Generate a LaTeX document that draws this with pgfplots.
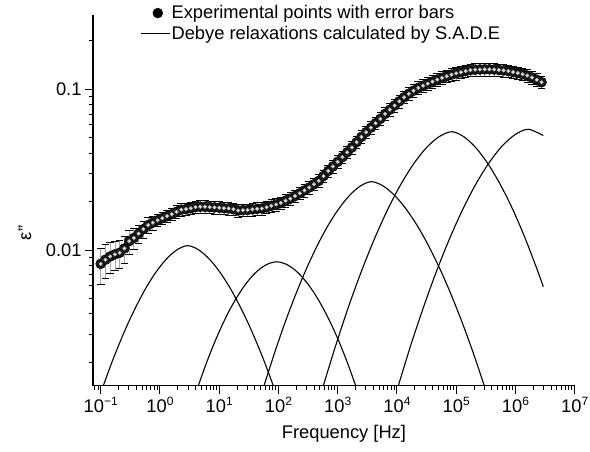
\documentclass[border=0pt]{standalone}
\usepackage{fontspec}
\setmainfont{Liberation Sans}
\usepackage{pgfplots}
\usepackage{pgfplotstable}
\pgfplotsset{compat=1.18}
\newcommand{\sx}[1]{10\raisebox{7bp}{\fontsize{12bp}{12bp}\selectfont #1}}

% experimental points: log10(f), log10(eps''), relative error
\pgfplotstableread{
u v e
-1.00 -2.086 0.25
-0.92 -2.060 0.24
-0.84 -2.040 0.22
-0.76 -2.027 0.21
-0.68 -2.017 0.20
-0.60 -1.990 0.19
-0.52 -1.945 0.17
-0.44 -1.925 0.15
-0.36 -1.898 0.13
-0.28 -1.870 0.12
-0.20 -1.845 0.11
-0.12 -1.830 0.10
-0.04 -1.815 0.09
0.04 -1.802 0.09
0.12 -1.789 0.09
0.20 -1.777 0.09
0.28 -1.762 0.09
0.36 -1.749 0.09
0.44 -1.745 0.09
0.52 -1.740 0.09
0.60 -1.733 0.09
0.68 -1.731 0.09
0.76 -1.731 0.09
0.84 -1.733 0.09
0.92 -1.735 0.09
1.00 -1.737 0.09
1.08 -1.740 0.09
1.16 -1.741 0.09
1.24 -1.746 0.09
1.32 -1.754 0.09
1.40 -1.752 0.09
1.48 -1.751 0.09
1.56 -1.747 0.09
1.64 -1.744 0.09
1.72 -1.742 0.09
1.80 -1.734 0.09
1.88 -1.725 0.09
1.96 -1.717 0.09
2.04 -1.707 0.09
2.12 -1.693 0.09
2.20 -1.681 0.09
2.28 -1.664 0.09
2.36 -1.647 0.09
2.44 -1.629 0.09
2.52 -1.611 0.09
2.60 -1.591 0.09
2.68 -1.570 0.09
2.76 -1.540 0.09
2.84 -1.508 0.09
2.92 -1.480 0.09
3.00 -1.451 0.09
3.08 -1.422 0.09
3.16 -1.392 0.09
3.24 -1.362 0.09
3.32 -1.329 0.09
3.40 -1.296 0.09
3.48 -1.267 0.09
3.56 -1.239 0.09
3.64 -1.211 0.09
3.72 -1.184 0.09
3.80 -1.153 0.09
3.88 -1.127 0.09
3.96 -1.101 0.09
4.04 -1.075 0.09
4.12 -1.050 0.09
4.20 -1.028 0.09
4.28 -1.009 0.09
4.36 -0.991 0.09
4.44 -0.978 0.09
4.52 -0.965 0.09
4.60 -0.952 0.09
4.68 -0.940 0.09
4.76 -0.929 0.09
4.84 -0.919 0.09
4.92 -0.909 0.09
5.00 -0.901 0.09
5.08 -0.894 0.09
5.16 -0.887 0.09
5.24 -0.881 0.09
5.32 -0.878 0.09
5.40 -0.877 0.09
5.48 -0.876 0.09
5.56 -0.876 0.09
5.64 -0.877 0.09
5.72 -0.880 0.09
5.80 -0.883 0.09
5.88 -0.887 0.09
5.96 -0.893 0.09
6.04 -0.899 0.09
6.12 -0.906 0.09
6.20 -0.915 0.09
6.28 -0.927 0.09
6.36 -0.941 0.09
6.44 -0.956 0.09
}\expdata

% Debye relaxations (log10 f, log10 eps'')
\pgfplotstableread{
u v
-0.956 -2.844
-0.814 -2.701
-0.671 -2.569
-0.529 -2.448
-0.386 -2.339
-0.244 -2.241
-0.102 -2.156
0.041 -2.085
0.183 -2.029
0.326 -1.990
0.468 -1.973
0.613 -1.990
0.757 -2.029
0.902 -2.085
1.046 -2.156
1.191 -2.241
1.335 -2.339
1.480 -2.448
1.624 -2.569
1.769 -2.701
1.913 -2.844
}\debA

\pgfplotstableread{
u v
0.647 -2.844
0.779 -2.708
0.912 -2.583
1.044 -2.472
1.176 -2.373
1.309 -2.287
1.441 -2.215
1.573 -2.156
1.705 -2.112
1.838 -2.084
1.970 -2.073
2.103 -2.084
2.237 -2.112
2.370 -2.156
2.504 -2.215
2.637 -2.287
2.770 -2.373
2.904 -2.472
3.037 -2.583
3.171 -2.708
3.304 -2.844
}\debB

\pgfplotstableread{
u v
1.756 -2.844
1.938 -2.636
2.119 -2.443
2.301 -2.267
2.482 -2.108
2.664 -1.966
2.845 -1.842
3.027 -1.739
3.208 -1.657
3.390 -1.600
3.571 -1.575
3.761 -1.600
3.952 -1.657
4.142 -1.739
4.332 -1.842
4.523 -1.966
4.713 -2.108
4.903 -2.267
5.093 -2.443
5.284 -2.636
5.474 -2.844
}\debC

\pgfplotstableread{
u v
2.757 -2.844
2.974 -2.585
3.190 -2.345
3.407 -2.126
3.624 -1.927
3.841 -1.750
4.057 -1.597
4.274 -1.468
4.491 -1.366
4.707 -1.296
4.924 -1.264
5.131 -1.296
5.337 -1.366
5.544 -1.468
5.751 -1.597
5.958 -1.750
6.164 -1.927
6.371 -2.126
6.470 -2.228
}\debD

\pgfplotstableread{
u v
4.023 -2.844
4.242 -2.582
4.462 -2.341
4.681 -2.119
4.901 -1.918
5.120 -1.740
5.339 -1.585
5.559 -1.455
5.778 -1.352
5.998 -1.281
6.217 -1.249
6.470 -1.288
}\debE

\begin{document}
\begin{tikzpicture}[font=\fontsize{18.3bp}{22bp}\selectfont]
\begin{axis}[
    scale only axis, width=481.7bp, height=370.7bp,
    xmode=log, ymode=log,
    xmin=0.0741, xmax=1e7, ymin=0.001432, ymax=0.2897,
    axis x line*=bottom, axis y line*=left,
    axis line style={line width=1.3bp},
    tick align=outside, major tick length=8bp, minor tick length=4.5bp,
    every tick/.style={black, line width=1bp},
    xtick={1e-1,1,1e1,1e2,1e3,1e4,1e5,1e6,1e7},
    xticklabels={\sx{−1},\sx{0},\sx{1},\sx{2},\sx{3},\sx{4},\sx{5},\sx{6},\sx{7}},
    minor xtick={0.08,0.09,0.2,0.3,0.4,0.5,0.6,0.7,0.8,0.9,2,3,4,5,6,7,8,9,
      20,30,40,50,60,70,80,90,200,300,400,500,600,700,800,900,
      2000,3000,4000,5000,6000,7000,8000,9000,2e4,3e4,4e4,5e4,6e4,7e4,8e4,9e4,
      2e5,3e5,4e5,5e5,6e5,7e5,8e5,9e5,2e6,3e6,4e6,5e6,6e6,7e6,8e6,9e6},
    ytick={0.01,0.1}, yticklabels={0.01,0.1},
    minor ytick={0.002,0.003,0.004,0.005,0.006,0.007,0.008,0.009,
      0.02,0.03,0.04,0.05,0.06,0.07,0.08,0.09,0.2},
    xlabel={Frequency [Hz]},
    xlabel style={at={(rel axis cs:0.521,0)}, anchor=center, yshift=-47.8bp},
    ylabel={ε''},
    ylabel style={at={(rel axis cs:0,0.412)}, anchor=center, yshift=68bp},
    legend style={at={(rel axis cs:0.0976,1.0297)}, anchor=north west,
      draw=none, fill=none, inner sep=0pt, row sep=3bp,
      nodes={inner sep=1.5bp}},
    legend cell align=left,
    /tikz/every even column/.append style={column sep=11bp},
]
\addlegendimage{legend image code/.code={\draw[black] plot[mark=*, mark size=5bp, mark options={fill=black}] coordinates {(15bp,0bp)};}}
\addlegendentry{Experimental points with error bars}
\addlegendimage{legend image code/.code={\draw[black, line width=1.2bp] (-2bp,0bp) -- (26.7bp,0bp);}}
\addlegendentry{Debye relaxations calculated by S.A.D.E}

\addplot[black, line width=1.1bp, smooth] table[x expr={pow(10,\thisrow{u})}, y expr={pow(10,\thisrow{v})}] {\debA};
\addplot[black, line width=1.1bp, smooth] table[x expr={pow(10,\thisrow{u})}, y expr={pow(10,\thisrow{v})}] {\debB};
\addplot[black, line width=1.1bp, smooth] table[x expr={pow(10,\thisrow{u})}, y expr={pow(10,\thisrow{v})}] {\debC};
\addplot[black, line width=1.1bp, smooth] table[x expr={pow(10,\thisrow{u})}, y expr={pow(10,\thisrow{v})}] {\debD};
\addplot[black, line width=1.1bp, smooth] table[x expr={pow(10,\thisrow{u})}, y expr={pow(10,\thisrow{v})}] {\debE};

% error bars first, markers on top
\addplot[only marks, mark=none,
  error bars/.cd, y dir=both, y explicit relative,
  error bar style={draw=gray!70, line width=0.8bp},
  error mark=-,
  error mark options={draw=black, line width=0.8bp, mark size=3.8bp, rotate=90}]
  table[x expr={pow(10,\thisrow{u})}, y expr={pow(10,\thisrow{v})}, y error=e] {\expdata};
\addplot[only marks, mark=*, mark size=5bp, mark options={fill=black!90, draw=black, line width=0.5bp}]
  table[x expr={pow(10,\thisrow{u})}, y expr={pow(10,\thisrow{v})}] {\expdata};
\addplot[only marks, mark=*, mark size=1.7bp, mark options={fill=gray!20, draw=gray!55, line width=0.5bp}]
  table[x expr={pow(10,\thisrow{u})}, y expr={pow(10,\thisrow{v})}] {\expdata};
\end{axis}
\pgfresetboundingbox
\path[use as bounding box] (-93bp,-66.3bp) rectangle (497bp,385.7bp);
\end{tikzpicture}
\end{document}
